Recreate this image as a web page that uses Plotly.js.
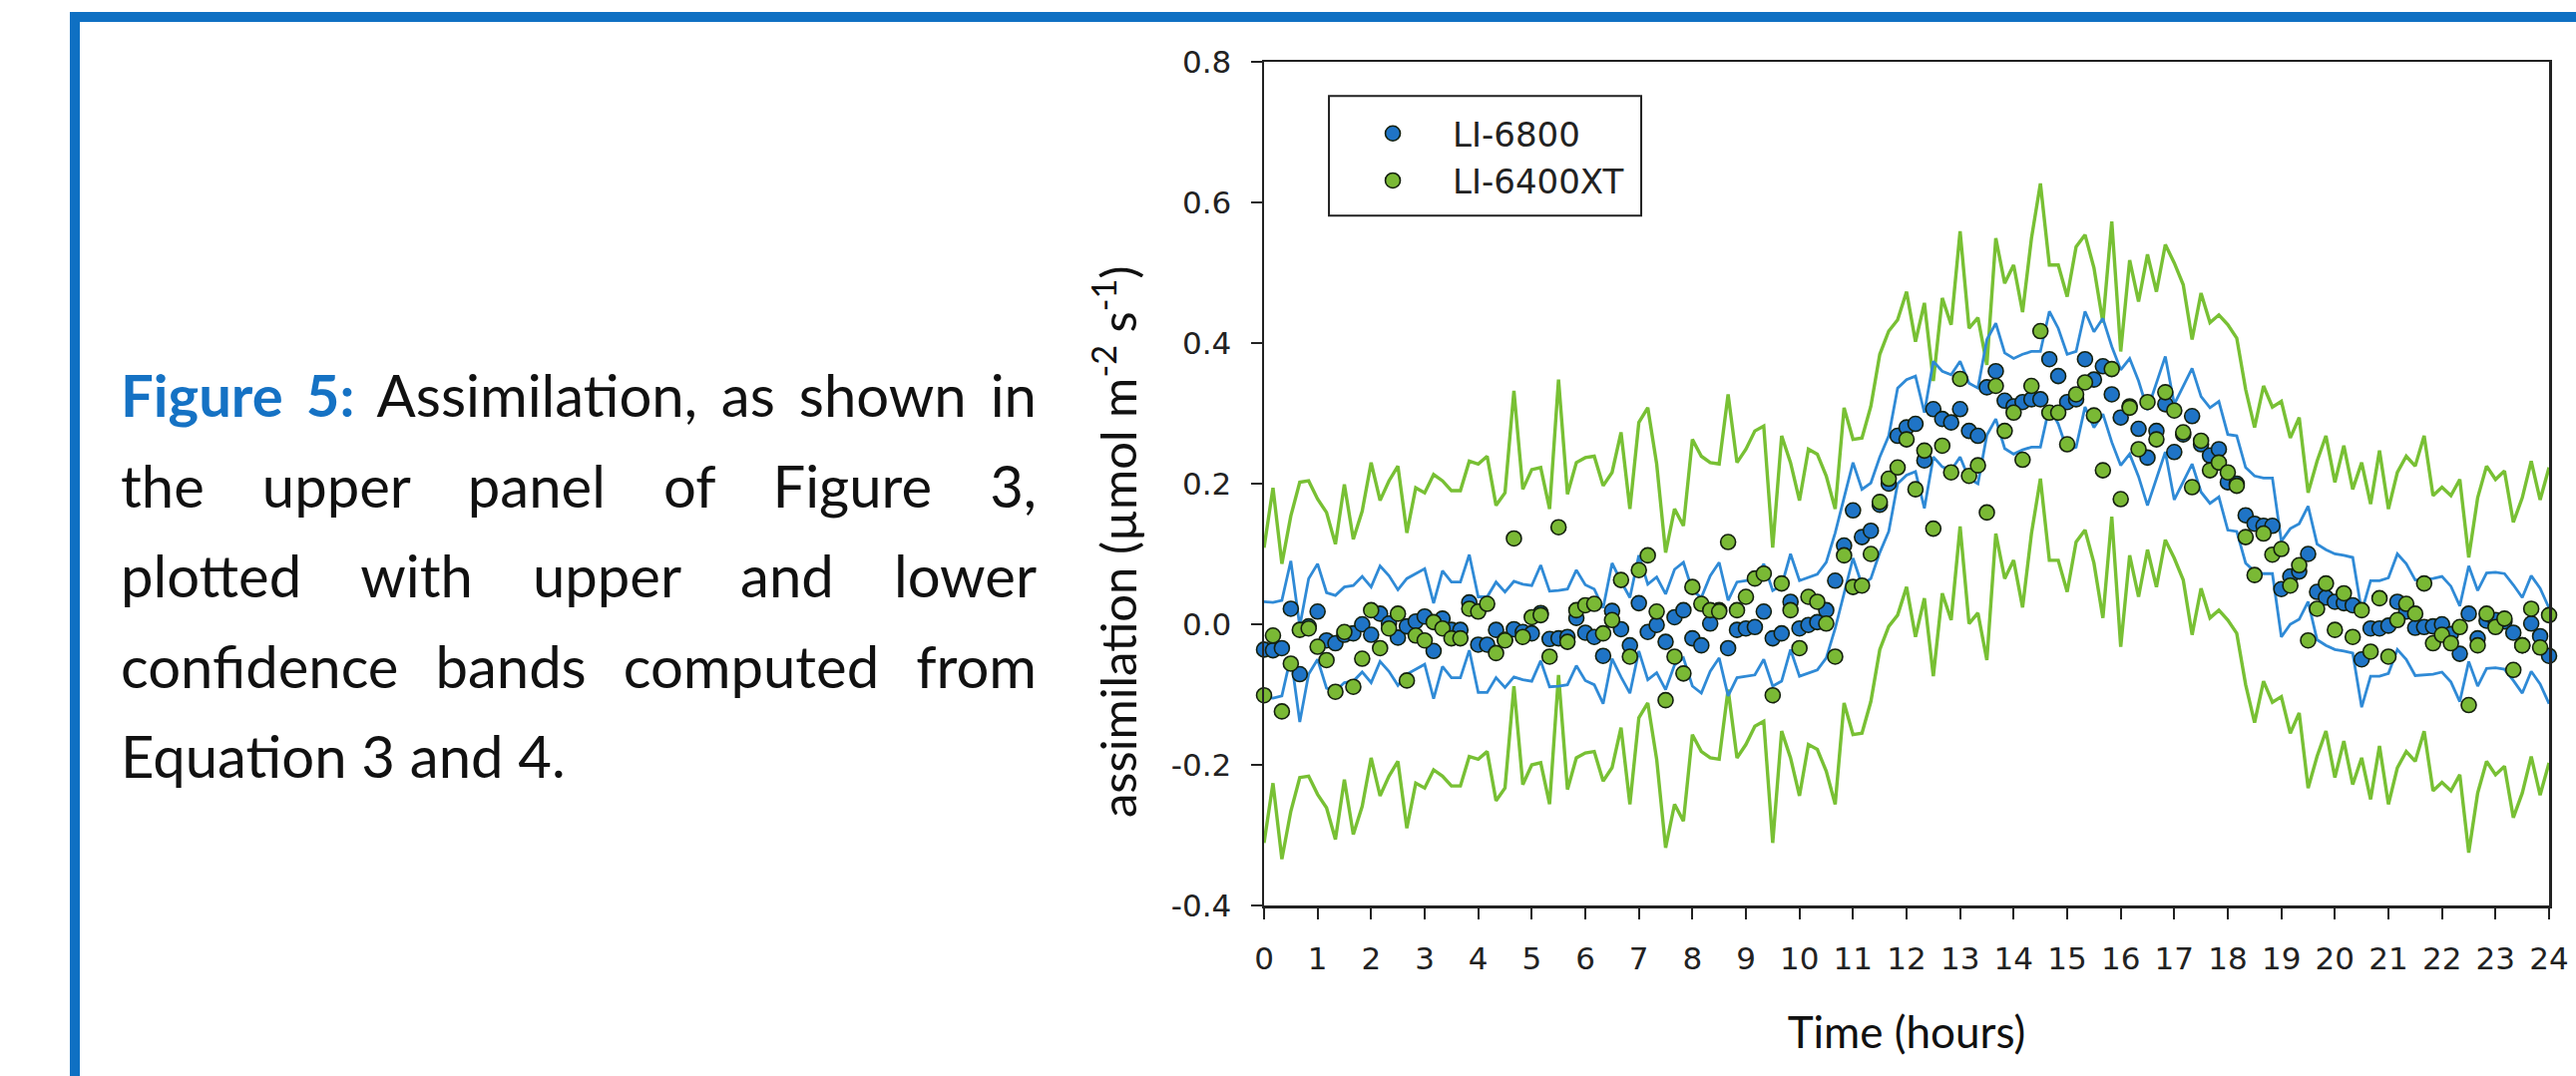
<!DOCTYPE html>
<html>
<head>
<meta charset="utf-8">
<script src="https://cdn.plot.ly/plotly-3.0.1.min.js"></script>
<style>
html,body{margin:0;padding:0;background:#ffffff;width:2582px;height:1079px;overflow:hidden;}
#chart{position:absolute;left:0;top:0;width:2582px;height:1079px;}
.frame{position:absolute;background:#0f70c3;}
#caption{position:absolute;left:121px;top:351px;width:918px;font-family:Lato,"Open Sans",sans-serif;font-size:58px;line-height:90.6px;color:#111111;}
#caption .j{text-align:justify;text-align-last:justify;}
#caption .l{text-align:left;}
#caption b{color:#1572c4;font-weight:700;}
</style>
</head>
<body>
<div class="frame" style="left:70px;top:12px;width:10px;height:1067px;"></div>
<div class="frame" style="left:70px;top:12px;width:2512px;height:10px;"></div>
<div id="caption">
  <div class="j"><b>Figure 5:</b> Assimilation, as shown in</div>
  <div class="j">the upper panel of Figure 3,</div>
  <div class="j">plotted with upper and lower</div>
  <div class="j">confidence bands computed from</div>
  <div class="l">Equation 3 and 4.</div>
</div>
<div id="chart"></div>
<script>
// Time of day (hours), 10-minute sampling
const hours = [
  0, 0.167, 0.333, 0.5, 0.667, 0.833,
  1, 1.167, 1.333, 1.5, 1.667, 1.833,
  2, 2.167, 2.333, 2.5, 2.667, 2.833,
  3, 3.167, 3.333, 3.5, 3.667, 3.833,
  4, 4.167, 4.333, 4.5, 4.667, 4.833,
  5, 5.167, 5.333, 5.5, 5.667, 5.833,
  6, 6.167, 6.333, 6.5, 6.667, 6.833,
  7, 7.167, 7.333, 7.5, 7.667, 7.833,
  8, 8.167, 8.333, 8.5, 8.667, 8.833,
  9, 9.167, 9.333, 9.5, 9.667, 9.833,
  10, 10.167, 10.333, 10.5, 10.667, 10.833,
  11, 11.167, 11.333, 11.5, 11.667, 11.833,
  12, 12.167, 12.333, 12.5, 12.667, 12.833,
  13, 13.167, 13.333, 13.5, 13.667, 13.833,
  14, 14.167, 14.333, 14.5, 14.667, 14.833,
  15, 15.167, 15.333, 15.5, 15.667, 15.833,
  16, 16.167, 16.333, 16.5, 16.667, 16.833,
  17, 17.167, 17.333, 17.5, 17.667, 17.833,
  18, 18.167, 18.333, 18.5, 18.667, 18.833,
  19, 19.167, 19.333, 19.5, 19.667, 19.833,
  20, 20.167, 20.333, 20.5, 20.667, 20.833,
  21, 21.167, 21.333, 21.5, 21.667, 21.833,
  22, 22.167, 22.333, 22.5, 22.667, 22.833,
  23, 23.167, 23.333, 23.5, 23.667, 23.833,
  24
];

// Assimilation (umol m-2 s-1), LI-6800
const assim6800 = [
  -0.036, -0.037, -0.034, 0.022, -0.071, -0.003,
  0.018, -0.023, -0.027, -0.015, -0.013, 0.000,
  -0.015, 0.015, 0.001, -0.019, -0.003, 0.004,
  0.011, -0.038, 0.008, -0.008, -0.008, 0.031,
  -0.029, -0.029, -0.008, -0.022, -0.007, -0.011,
  -0.013, 0.016, -0.021, -0.020, -0.018, 0.009,
  -0.012, -0.018, -0.045, 0.019, -0.007, -0.030,
  0.030, -0.011, -0.001, -0.025, 0.010, 0.020,
  -0.020, -0.030, 0.001, 0.020, -0.034, -0.008,
  -0.006, -0.004, 0.018, -0.020, -0.013, 0.032,
  -0.006, -0.001, 0.003, 0.020, 0.062, 0.112,
  0.162, 0.124, 0.133, 0.170, 0.200, 0.268,
  0.280, 0.285, 0.233, 0.306, 0.292, 0.287,
  0.306, 0.275, 0.268, 0.337, 0.360, 0.318,
  0.310, 0.316, 0.320, 0.320, 0.377, 0.353,
  0.316, 0.320, 0.377, 0.348, 0.367, 0.327,
  0.294, 0.310, 0.278, 0.237, 0.275, 0.313,
  0.245, 0.270, 0.296, 0.256, 0.240, 0.249,
  0.202, 0.200, 0.155, 0.143, 0.140, 0.140,
  0.050, 0.068, 0.075, 0.100, 0.046, 0.038,
  0.032, 0.030, 0.027, -0.050, -0.006, -0.006,
  -0.002, 0.032, 0.018, -0.005, -0.004, -0.003,
  0.000, -0.014, -0.042, 0.015, -0.020, 0.005,
  0.006, 0.004, -0.012, -0.030, 0.001, -0.017,
  -0.045
];

// Assimilation (umol m-2 s-1), LI-6400XT
const assim6400XT = [
  -0.101, -0.016, -0.124, -0.056, -0.008, -0.006,
  -0.032, -0.051, -0.096, -0.011, -0.089, -0.049,
  0.020, -0.034, -0.006, 0.015, -0.080, -0.016,
  -0.023, 0.003, -0.006, -0.020, -0.020, 0.022,
  0.018, 0.029, -0.041, -0.023, 0.122, -0.018,
  0.010, 0.013, -0.046, 0.138, -0.025, 0.020,
  0.027, 0.029, -0.013, 0.006, 0.063, -0.046,
  0.077, 0.098, 0.018, -0.108, -0.046, -0.070,
  0.053, 0.029, 0.020, 0.018, 0.117, 0.020,
  0.039, 0.065, 0.072, -0.101, 0.058, 0.020,
  -0.034, 0.039, 0.032, 0.001, -0.046, 0.098,
  0.053, 0.055, 0.100, 0.174, 0.207, 0.223,
  0.263, 0.192, 0.247, 0.136, 0.254, 0.216,
  0.349, 0.211, 0.226, 0.159, 0.339, 0.275,
  0.301, 0.234, 0.339, 0.417, 0.301, 0.301,
  0.256, 0.327, 0.344, 0.297, 0.219, 0.363,
  0.178, 0.308, 0.249, 0.316, 0.263, 0.330,
  0.304, 0.273, 0.195, 0.261, 0.219, 0.230,
  0.216, 0.197, 0.124, 0.070, 0.129, 0.099,
  0.107, 0.055, 0.084, -0.023, 0.022, 0.058,
  -0.008, 0.044, -0.018, 0.020, -0.039, 0.037,
  -0.046, 0.006, 0.029, 0.015, 0.058, -0.027,
  -0.015, -0.027, -0.004, -0.115, -0.030, 0.015,
  -0.004, 0.008, -0.065, -0.030, 0.022, -0.033,
  0.013
];

// Half-widths of the confidence bands (Equations 3 and 4)
const bandHalfWidth6800 = 0.068;
const bandHalfWidth6400XT = 0.21;

const seriesNames = ['LI-6800', 'LI-6400XT'];
const xTickVals = [0,1,2,3,4,5,6,7,8,9,10,11,12,13,14,15,16,17,18,19,20,21,22,23,24];
const xTickText = ['0','1','2','3','4','5','6','7','8','9','10','11','12','13','14','15','16','17','18','19','20','21','22','23','24'];
const yTickVals = [-0.4, -0.2, 0.0, 0.2, 0.4, 0.6, 0.8];
const yTickText = ['-0.4', '-0.2', '0.0', '0.2', '0.4', '0.6', '0.8'];

const upper6800 = assim6800.map(v => v + bandHalfWidth6800);
const lower6800 = assim6800.map(v => v - bandHalfWidth6800);
const upper6400XT = assim6400XT.map(v => v + bandHalfWidth6400XT);
const lower6400XT = assim6400XT.map(v => v - bandHalfWidth6400XT);

const blueFill = '#1f74c6';
const greenFill = '#7ab935';
const blueLine = '#2f8ad6';
const greenLine = '#78c034';
const outline = '#14200e';

function bandTrace(y, color, width) {
  return {x: hours, y: y, type: 'scatter', mode: 'lines',
    line: {color: color, width: width}, showlegend: false, hoverinfo: 'skip'};
}

const traces = [
  bandTrace(upper6400XT, greenLine, 3.4),
  bandTrace(lower6400XT, greenLine, 3.4),
  bandTrace(upper6800, blueLine, 2.8),
  bandTrace(lower6800, blueLine, 2.8),
  {x: hours, y: assim6800, type: 'scatter', mode: 'markers', name: seriesNames[0],
    cliponaxis: false,
    marker: {symbol: 'circle', size: 15, color: blueFill, line: {color: outline, width: 1.6}}},
  {x: hours, y: assim6400XT, type: 'scatter', mode: 'markers', name: seriesNames[1],
    cliponaxis: false,
    marker: {symbol: 'circle', size: 15, color: greenFill, line: {color: outline, width: 1.6}}}
];

const axisCommon = {
  ticks: 'outside', ticklen: 11, tickwidth: 2, tickcolor: '#222222',
  showline: true, linecolor: '#222222', linewidth: 2.5, mirror: true,
  showgrid: false, zeroline: false, tickmode: 'array',
  tickfont: {family: 'DejaVu Sans', size: 31, color: '#222222'}
};

const layout = {
  width: 2582, height: 1079,
  margin: {l: 1267, r: 27, t: 62, b: 171, pad: 0},
  paper_bgcolor: 'rgba(0,0,0,0)',
  plot_bgcolor: '#ffffff',
  showlegend: true,
  xaxis: Object.assign({}, axisCommon, {
    range: [0, 24], tickvals: xTickVals, ticktext: xTickText, ticklabelstandoff: 13,
    title: {text: 'Time (hours)', font: {family: 'Lato', size: 44, color: '#111111'}, standoff: 43}
  }),
  yaxis: Object.assign({}, axisCommon, {
    range: [-0.4, 0.8], tickvals: yTickVals, ticktext: yTickText, ticklabelstandoff: 13
  }),
  annotations: [{
    text: 'assimilation (µmol m<sup>-2</sup> s<sup>-1</sup>)',
    textangle: -90, xref: 'paper', yref: 'paper', x: -0.1165, y: 0.4313,
    xanchor: 'center', yanchor: 'middle', showarrow: false,
    font: {family: 'Lato', size: 49, color: '#111111'}
  }],
  shapes: [{
    type: 'rect', xref: 'paper', yref: 'paper',
    x0: 0.0505, x1: 0.2935, y0: 0.8177, y1: 0.9595,
    line: {color: '#222222', width: 2}, fillcolor: 'rgba(0,0,0,0)'
  }],
  legend: {
    x: 0.0536, y: 0.949, xanchor: 'left', yanchor: 'top',
    bgcolor: 'rgba(0,0,0,0)', borderwidth: 0, itemwidth: 110,
    font: {family: 'DejaVu Sans', size: 34, color: '#222222'}
  }
};

Plotly.newPlot('chart', traces, layout, {staticPlot: true, displayModeBar: false});
</script>
</body>
</html>
